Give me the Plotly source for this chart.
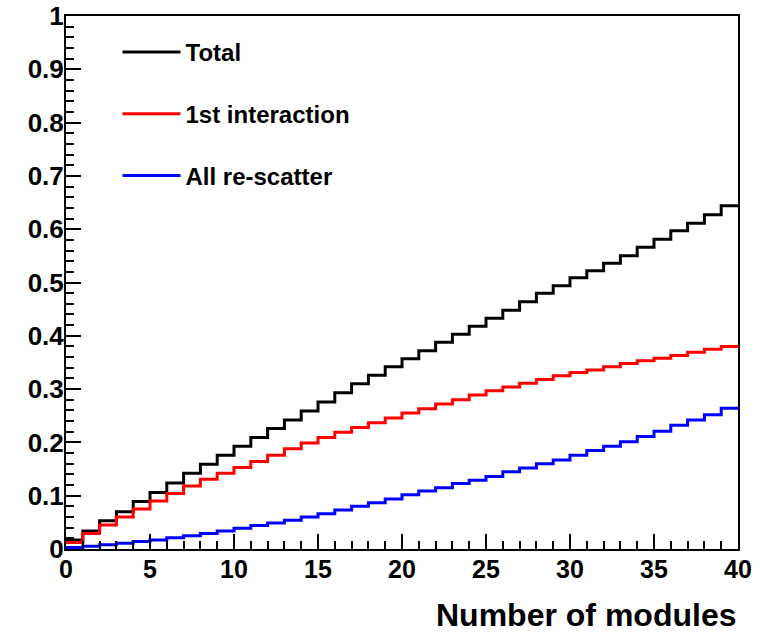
import plotly.graph_objects as go

bin_edges = list(range(0, 41))

total = [0.017, 0.034, 0.053, 0.070, 0.089, 0.106, 0.124, 0.142, 0.159, 0.176,
         0.193, 0.209, 0.226, 0.242, 0.259, 0.276, 0.293, 0.310, 0.326, 0.342,
         0.357, 0.372, 0.388, 0.403, 0.418, 0.433, 0.448, 0.464, 0.480, 0.494,
         0.509, 0.522, 0.536, 0.550, 0.566, 0.581, 0.597, 0.611, 0.627, 0.644]
first_interaction = [0.012, 0.029, 0.045, 0.060, 0.075, 0.090, 0.104, 0.118, 0.131, 0.142,
                     0.153, 0.164, 0.176, 0.188, 0.199, 0.209, 0.219, 0.228, 0.237, 0.246,
                     0.255, 0.263, 0.272, 0.280, 0.289, 0.297, 0.304, 0.311, 0.318, 0.325,
                     0.331, 0.336, 0.342, 0.348, 0.353, 0.358, 0.363, 0.369, 0.375, 0.380]
all_rescatter = [0.003, 0.005, 0.008, 0.011, 0.014, 0.017, 0.021, 0.025, 0.029, 0.034,
                 0.039, 0.044, 0.049, 0.054, 0.060, 0.066, 0.073, 0.080, 0.087, 0.094,
                 0.102, 0.109, 0.115, 0.123, 0.129, 0.136, 0.145, 0.152, 0.160, 0.167,
                 0.176, 0.185, 0.193, 0.201, 0.211, 0.221, 0.232, 0.242, 0.252, 0.264]

series_names = ["Total", "1st interaction", "All re-scatter"]
series_colors = ["#000000", "#ff0000", "#0000ff"]
series_values = [total, first_interaction, all_rescatter]

x_title = "Number of modules"

FONT = "Liberation Sans, Arial, Helvetica, sans-serif"

fig = go.Figure()
for i, (name, color, vals) in enumerate(zip(series_names, series_colors, series_values)):
    fig.add_trace(go.Scatter(
        x=bin_edges,
        y=list(vals) + [vals[-1]],
        mode="lines",
        line=dict(color=color, width=3, shape="hv"),
        name=name,
        legendgroup="g%d" % i,
    ))

axis_common = dict(
    showline=True, linecolor="black", linewidth=2, mirror=True,
    ticks="inside", tickcolor="black", tickwidth=2, ticklen=15,
    showgrid=False, zeroline=False, automargin=False,
)

fig.update_xaxes(
    range=[0, 40], tickmode="linear", tick0=0, dtick=5,
    minor=dict(ticks="inside", ticklen=8, tickwidth=2, tickcolor="black", dtick=1, tick0=0),
    tickfont=dict(family=FONT, size=25, color="black", weight="bold"),
    ticklabelstandoff=-3,
    **axis_common,
)
fig.update_yaxes(
    range=[0, 1], tickmode="linear", tick0=0, dtick=0.1,
    minor=dict(ticks="inside", ticklen=8, tickwidth=2, tickcolor="black", dtick=0.02, tick0=0),
    tickfont=dict(family=FONT, size=26, color="black", weight="bold"),
    ticklabelstandoff=-5,
    **axis_common,
)

fig.add_annotation(
    text=x_title, xref="paper", yref="paper", x=1.0, y=-(615 - 549) / 533,
    xanchor="right", yanchor="middle", showarrow=False,
    font=dict(family=FONT, size=32, color="black", weight="bold"),
)

fig.update_layout(
    width=760, height=632,
    margin=dict(l=66, r=22, t=16, b=83, autoexpand=False),
    paper_bgcolor="white", plot_bgcolor="white",
    showlegend=True,
    legend=dict(
        x=(117.5 - 66) / 672, y=(549 - 30) / 533, xanchor="left", yanchor="top",
        bgcolor="rgba(0,0,0,0)", borderwidth=0,
        font=dict(family=FONT, size=24, color="black", weight="bold"),
        tracegroupgap=27.5, itemwidth=58,
    ),
)

fig.write_html("out.html")
